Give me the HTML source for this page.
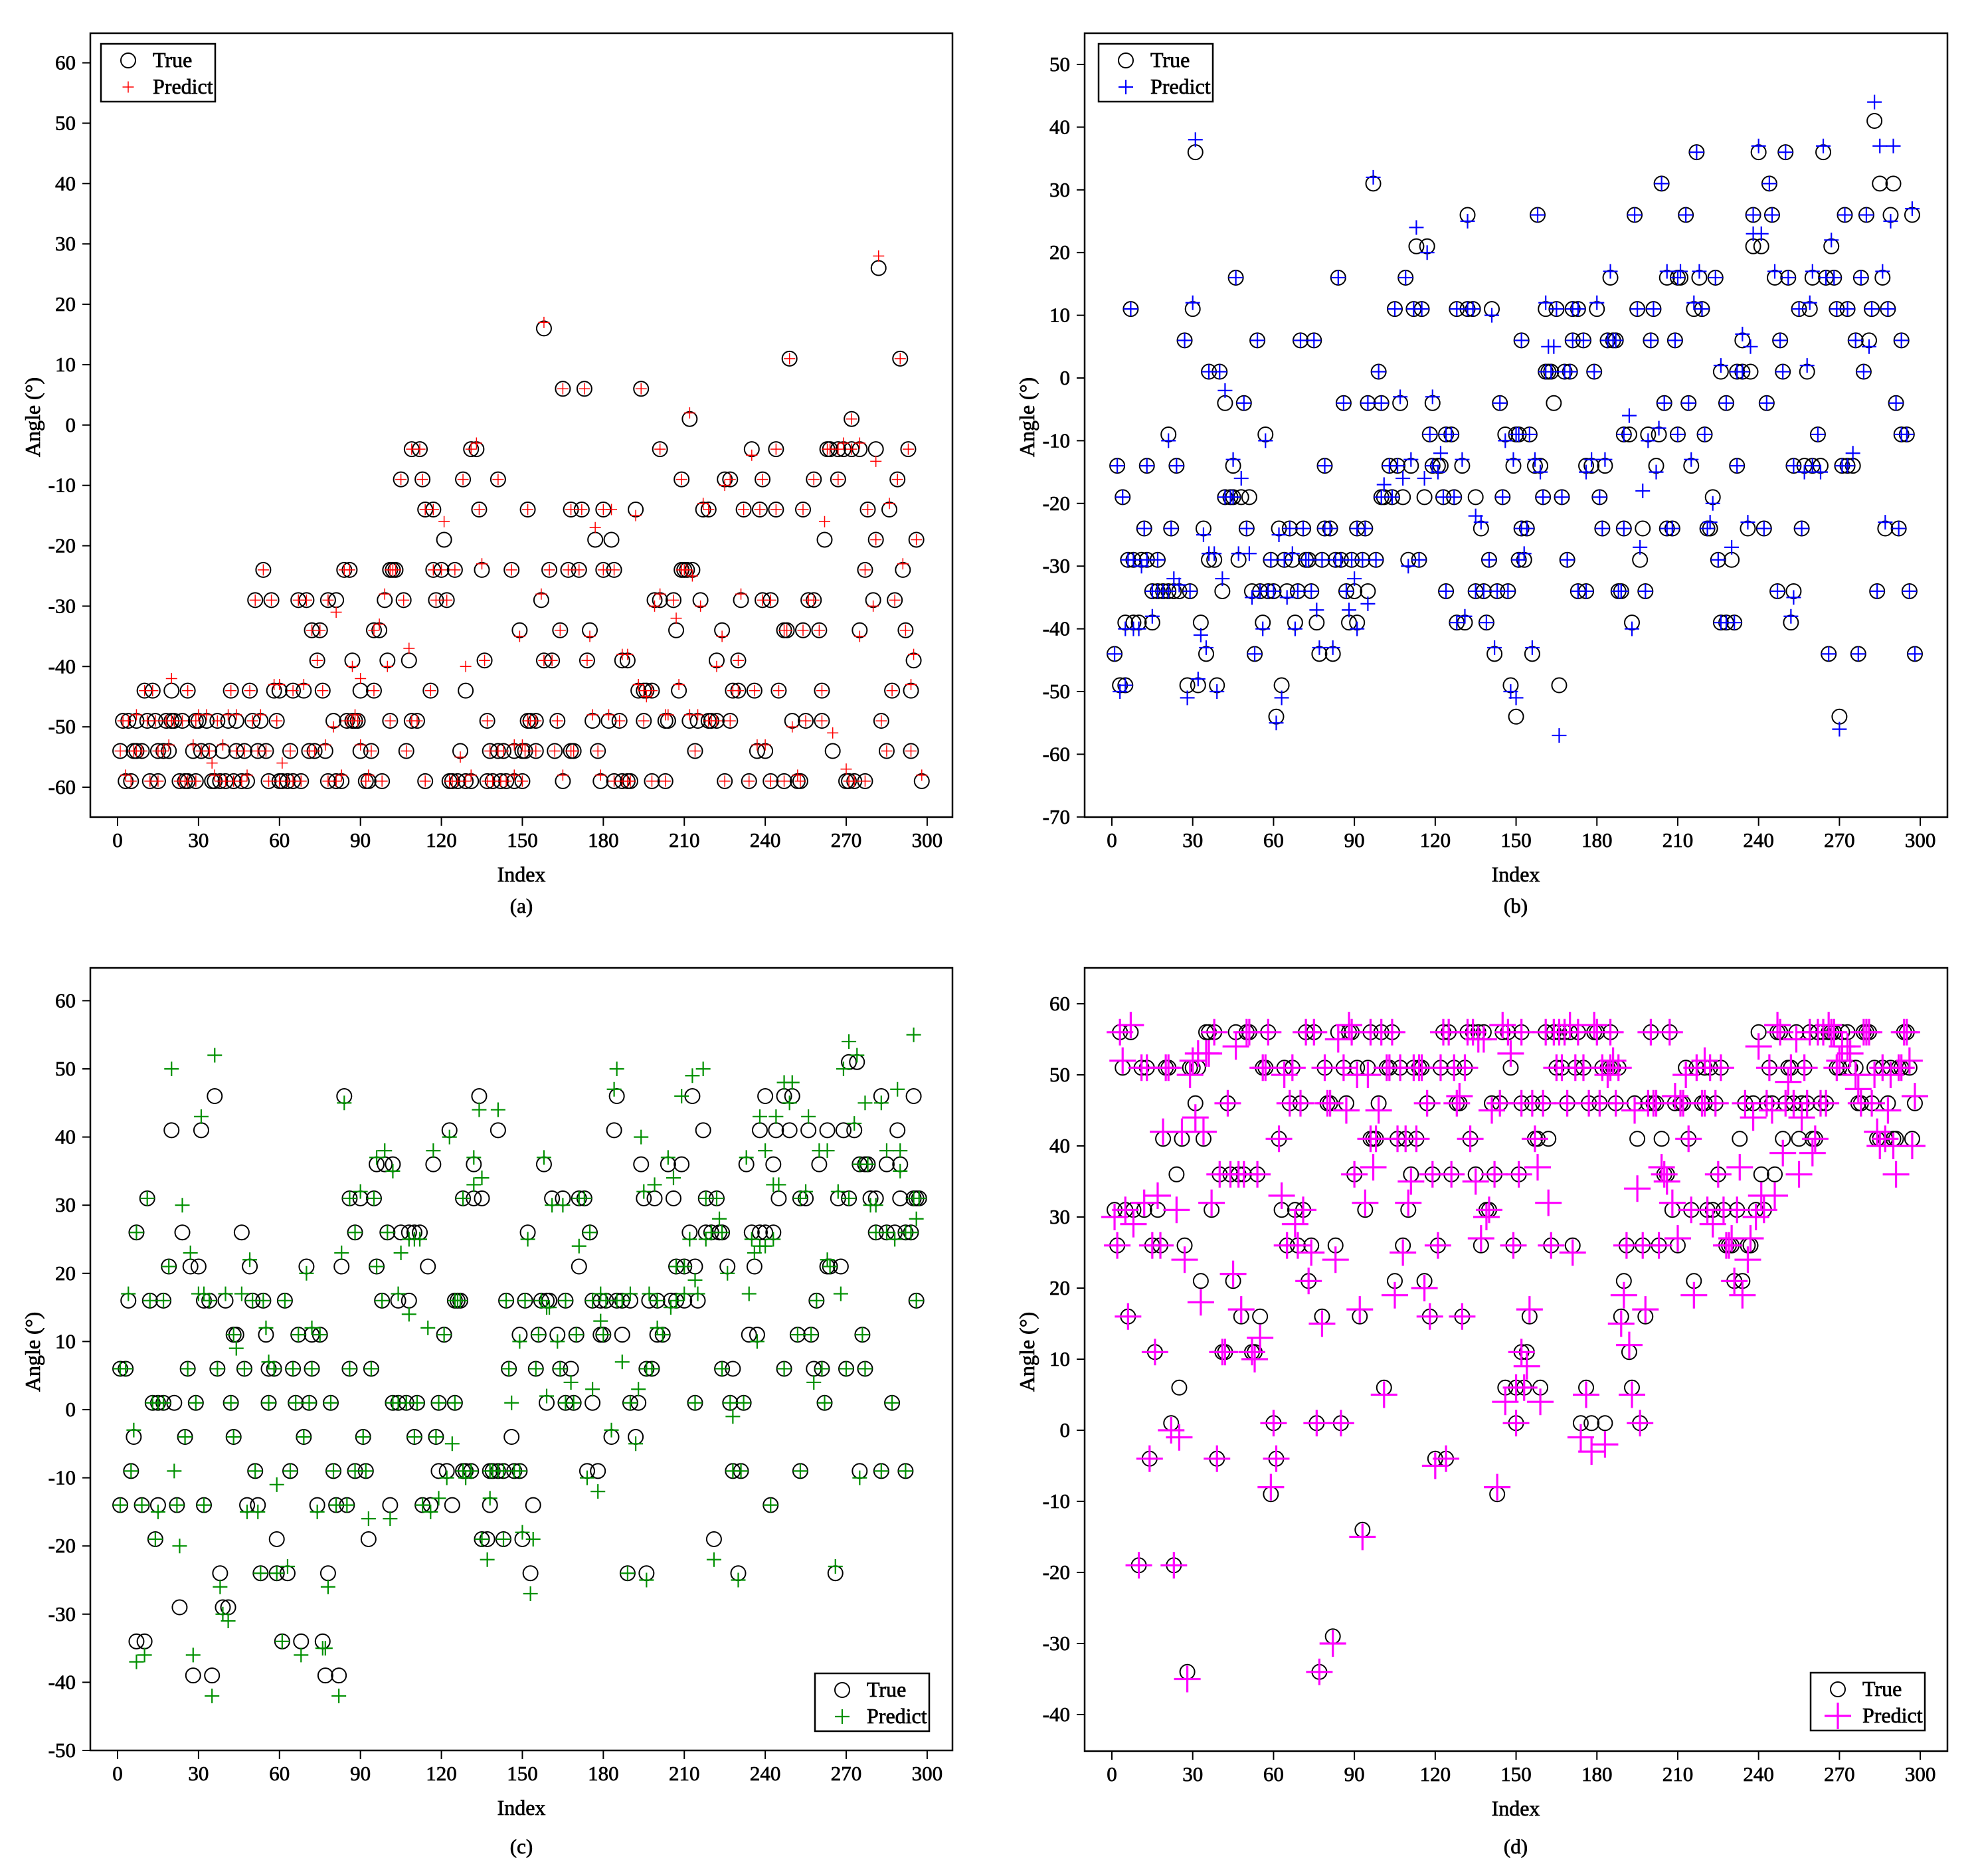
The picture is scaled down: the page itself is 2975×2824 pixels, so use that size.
<!DOCTYPE html>
<html>
<head>
<meta charset="utf-8">
<title>True vs Predict angle scatter panels</title>
<style>
html,body{margin:0;padding:0;background:#fff;}
svg{display:block;}
text{font-family:"Liberation Serif",serif;fill:#000;stroke:#000;stroke-width:.7px;}
</style>
</head>
<body>
<svg id="chart" xmlns="http://www.w3.org/2000/svg" width="2975" height="2824" viewBox="0 0 2975 2824"></svg>
<script>
// ---- shared tick labels ----
const xTicks = [0,30,60,90,120,150,180,210,240,270,300];
const aYTicks = [-60,-50,-40,-30,-20,-10,0,10,20,30,40,50,60];
const bYTicks = [-70,-60,-50,-40,-30,-20,-10,0,10,20,30,40,50];
const cYTicks = [-50,-40,-30,-20,-10,0,10,20,30,40,50,60];
const dYTicks = [-40,-30,-20,-10,0,10,20,30,40,50,60];

// ---- panel (a) ----
const aIndex = [
3,5,12,15,23,25,26,29,35,36, 38,40,43,46,48,56,60,61,63,65, 68,78,81,83,92,93,98,114,123,124, 126,129,131,137,139,142,144,147,150,165, 179,184,187,189,190,198,203,225,234,242, 247,252,253,270,271,273,277,298,
1,6,7,9,15,17,19,28,31,34, 39,44,47,52,55,64,71,73,77,90, 94,107,127,138,141,143,147,150,151,155, 162,168,169,178,214,237,240,265,285,294,
2,4,7,11,14,18,20,21,24,29, 30,33,37,41,44,50,53,59,80,85, 87,88,89,101,109,111,137,152,153,155, 163,176,182,186,195,203,204,212,215,219, 220,222,227,250,255,261,283,
10,13,20,26,42,49,58,60,65,69, 76,90,95,116,129,193,195,196,198,208, 228,230,236,245,261,287,294,
74,87,100,108,136,158,161,174,187,189,222,230,295,
72,75,95,97,149,164,175,207,224,247,248,254,260,275,292,
51,57,67,70,78,81,99,106,118,122,157,199,201,206,216,231,239,242,256,258,280,288,
54,84,86,101,102,103,117,120,125,135,146,160,167,171,180,184,209,210,211,213,277,291,
121,177,183,262,281,296,
114,117,134,152,168,172,180,192,217,219,232,238,244,254,278,286,
105,113,128,141,209,225,227,239,258,267,289,
109,112,131,133,201,235,244,263,264,267,269,272,275,281,293,
212,272,
165,173,194,
249,290,
158,
282];
const aTrue = [
-59,-59,-59,-59,-59,-59,-59,-59,-59,-59, -59,-59,-59,-59,-59,-59,-59,-59,-59,-59, -59,-59,-59,-59,-59,-59,-59,-59,-59,-59, -59,-59,-59,-59,-59,-59,-59,-59,-59,-59, -59,-59,-59,-59,-59,-59,-59,-59,-59,-59, -59,-59,-59,-59,-59,-59,-59,-59,
-54,-54,-54,-54,-54,-54,-54,-54,-54,-54, -54,-54,-54,-54,-54,-54,-54,-54,-54,-54, -54,-54,-54,-54,-54,-54,-54,-54,-54,-54, -54,-54,-54,-54,-54,-54,-54,-54,-54,-54,
-49,-49,-49,-49,-49,-49,-49,-49,-49,-49, -49,-49,-49,-49,-49,-49,-49,-49,-49,-49, -49,-49,-49,-49,-49,-49,-49,-49,-49,-49, -49,-49,-49,-49,-49,-49,-49,-49,-49,-49, -49,-49,-49,-49,-49,-49,-49,
-44,-44,-44,-44,-44,-44,-44,-44,-44,-44, -44,-44,-44,-44,-44,-44,-44,-44,-44,-44, -44,-44,-44,-44,-44,-44,-44,
-39,-39,-39,-39,-39,-39,-39,-39,-39,-39,-39,-39,-39,
-34,-34,-34,-34,-34,-34,-34,-34,-34,-34,-34,-34,-34,-34,-34,
-29,-29,-29,-29,-29,-29,-29,-29,-29,-29,-29,-29,-29,-29,-29,-29,-29,-29,-29,-29,-29,-29,
-24,-24,-24,-24,-24,-24,-24,-24,-24,-24,-24,-24,-24,-24,-24,-24,-24,-24,-24,-24,-24,-24,
-19,-19,-19,-19,-19,-19,
-14,-14,-14,-14,-14,-14,-14,-14,-14,-14,-14,-14,-14,-14,-14,-14,
-9,-9,-9,-9,-9,-9,-9,-9,-9,-9,-9,
-4,-4,-4,-4,-4,-4,-4,-4,-4,-4,-4,-4,-4,-4,-4,
1,1,
6,6,6,
11,11,
16,
26];
const aPredict = [
-58,-59,-59,-59,-59,-59,-59,-59,-56,-58, -59,-59,-59,-59,-58,-59,-59,-56,-59,-59, -59,-59,-59,-58,-59,-58,-59,-59,-59,-59, -59,-59,-58,-59,-59,-59,-59,-58,-59,-58, -58,-59,-59,-59,-59,-59,-59,-59,-59,-59, -59,-58,-59,-57,-59,-59,-59,-58,
-54,-54,-54,-54,-54,-54,-53,-53,-54,-54, -53,-54,-54,-54,-54,-54,-54,-54,-53,-53, -54,-54,-55,-54,-54,-54,-53,-53,-54,-54, -54,-54,-54,-54,-54,-53,-53,-51,-54,-54,
-49,-49,-48,-49,-49,-49,-49,-49,-49,-49, -48,-48,-49,-48,-48,-49,-48,-49,-50,-49, -49,-48,-49,-49,-49,-49,-49,-49,-49,-49, -49,-48,-48,-49,-49,-48,-48,-48,-48,-49, -49,-49,-49,-50,-49,-49,-49,
-44,-44,-42,-44,-44,-44,-43,-43,-44,-43, -44,-42,-44,-44,-40,-43,-44,-45,-44,-43, -44,-44,-44,-44,-44,-44,-43,
-39,-40,-40,-37,-39,-39,-39,-39,-38,-38,-40,-39,-38,
-34,-34,-34,-33,-35,-34,-35,-32,-35,-34,-34,-34,-34,-35,-34,
-29,-29,-29,-29,-29,-31,-28,-29,-29,-29,-28,-30,-28,-29,-30,-28,-29,-29,-29,-29,-30,-29,
-24,-24,-24,-24,-24,-24,-24,-24,-24,-23,-24,-24,-24,-24,-24,-24,-24,-24,-24,-25,-24,-23,
-16,-17,-14,-16,-19,-19,
-14,-14,-14,-14,-14,-14,-14,-15,-13,-14,-14,-14,-14,-14,-14,-13,
-9,-9,-9,-9,-9,-10,-9,-9,-9,-9,-9,
-4,-4,-4,-3,-4,-5,-4,-4,-4,-4,-3,-4,-3,-6,-4,
2,1,
6,6,6,
11,11,
17,
28];

// ---- panel (b) ----
const bIndex = [
283,
31,217,240,250,264,
97,204,244,285,290,
132,158,194,213,238,245,272,280,289,297,
113,117,238,241,267,
46,84,109,185,206,210,211,218,224,246,251,260,265,268,278,286,
7,30,105,112,115,128,132,134,141,161,165,171,173,180,195,201,216,219,255,259,269,273,282,288,
27,54,70,75,152,171,175,184,186,187,200,209,234,248,276,281,293,
36,40,99,161,162,163,168,170,179,226,232,234,237,249,258,279,
42,49,86,95,100,107,119,144,164,205,214,228,243,291,
21,57,118,124,126,146,150,151,155,190,192,199,203,210,220,262,293,295,
2,13,24,45,79, 103,106,111,119,121, 122,130,149,157,159, 176,178,183,202,215, 232,253,257,260,263, 271,273,275,
4,42,44,45,48,51,100,101,104,108,116,123,127,135,145,160,167,181,223,
12,22,34,50,62, 66,71,79,81,91, 94,137,152,154,182, 190,197,206,208,221, 222,236,242,256,287, 292,
6,8,11,13,17, 36,38,47,59,64, 67,72,73,78,83, 85,89,93,98,110, 114,140,151,153,169, 196,225,230,
15,17,19,21,23, 25,29,41,52,55, 58,60,65,69,74, 87,90,95,124,135, 138,143,147,173,176, 188,189,198,247,253, 284,296,
5,8,10,15,33, 56,68,76,88,91, 128,131,139,193,226, 228,231,252,
1,53,35,77,82,142,156,266,277,298,
3,5,28,32,39,63,148,166,
61,150,270];
const bTrue = [
41,
36,36,36,36,36,
31,31,31,31,31,
26,26,26,26,26,26,26,26,26,26,
21,21,21,21,21,
16,16,16,16,16,16,16,16,16,16,16,16,16,16,16,16,
11,11,11,11,11,11,11,11,11,11,11,11,11,11,11,11,11,11,11,11,11,11,11,11,
6,6,6,6,6,6,6,6,6,6,6,6,6,6,6,6,6,
1,1,1,1,1,1,1,1,1,1,1,1,1,1,1,1,
-4,-4,-4,-4,-4,-4,-4,-4,-4,-4,-4,-4,-4,-4,
-9,-9,-9,-9,-9,-9,-9,-9,-9,-9,-9,-9,-9,-9,-9,-9,-9,-9,
-14,-14,-14,-14,-14, -14,-14,-14,-14,-14, -14,-14,-14,-14,-14, -14,-14,-14,-14,-14, -14,-14,-14,-14,-14, -14,-14,-14,
-19,-19,-19,-19,-19,-19,-19,-19,-19,-19,-19,-19,-19,-19,-19,-19,-19,-19,-19,
-24,-24,-24,-24,-24, -24,-24,-24,-24,-24, -24,-24,-24,-24,-24, -24,-24,-24,-24,-24, -24,-24,-24,-24,-24, -24,
-29,-29,-29,-29,-29, -29,-29,-29,-29,-29, -29,-29,-29,-29,-29, -29,-29,-29,-29,-29, -29,-29,-29,-29,-29, -29,-29,-29,
-34,-34,-34,-34,-34, -34,-34,-34,-34,-34, -34,-34,-34,-34,-34, -34,-34,-34,-34,-34, -34,-34,-34,-34,-34, -34,-34,-34,-34,-34, -34,-34,
-39,-39,-39,-39,-39, -39,-39,-39,-39,-39, -39,-39,-39,-39,-39, -39,-39,-39,
-44,-44,-44,-44,-44,-44,-44,-44,-44,-44,
-49,-49,-49,-49,-49,-49,-49,-49,
-54,-54,-54];
const bPredict = [
44,
38,36,37,36,37,
32,31,31,37,37,
25,26,26,26,26,26,26,26,25,27,
24,20,23,23,22,
16,16,16,17,17,16,17,17,16,17,16,17,16,16,16,17,
11,12,11,11,11,11,11,11,10,12,11,11,11,12,11,11,12,11,11,12,11,11,11,11,
6,6,6,6,6,6,6,6,6,6,6,6,7,6,6,5,6,
1,1,1,1,5,1,1,1,1,2,1,1,5,1,2,1,
-2,-4,-4,-4,-4,-3,-3,-4,5,-4,-4,-4,-4,-4,
-10,-10,-9,-9,-9,-10,-9,-9,-9,-9,-6,-10,-8,-9,-9,-9,-9,-9,
-14,-14,-14,-13,-14, -14,-14,-13,-14,-15, -12,-13,-13,-13,-15, -15,-13,-13,-15,-13, -14,-14,-15,-14,-15, -14,-14,-12,
-19,-19,-19,-19,-16,-28,-19,-17,-19,-16,-16,-19,-19,-22,-19,-19,-19,-19,-20,
-24,-24,-25,-24,-25, -24,-24,-24,-24,-24, -24,-23,-24,-24,-24, -24,-18,-24,-24,-24, -23,-23,-24,-24,-23, -24,
-29,-29,-30,-29,-29, -28,-28,-28,-29,-29, -28,-29,-29,-29,-29, -29,-29,-29,-29,-30, -29,-29,-29,-28,-29, -27,-29,-27,
-34,-34,-34,-34,-32, -33,-34,-32,-35,-34, -34,-34,-35,-34,-34, -34,-32,-36,-34,-34, -34,-34,-34,-34,-34, -34,-34,-34,-34,-35, -34,-34,
-40,-40,-40,-38,-41, -40,-40,-37,-37,-40, -39,-38,-39,-40,-39, -39,-39,-38,
-44,-44,-43,-43,-43,-43,-43,-44,-44,-44,
-50,-49,-51,-48,-50,-51,-50,-57,
-55,-51,-56];

// ---- panel (c) ----
const cIndex = [
271,274,
36,84,134,185,213,240,247,250,283,295,
20,31,123,141,184,217,238,244,249,256,263,269,273,289,
96,99,102,117,132,158,194,204,209,233,243,260,275,277,278,285,290,
11,86,90,95,128,132,135,161,165,171,173,195,199,206,218,222,245,253,255,267,271,279,281,290,295,296,297,
7,24,46,88,100,105,108,110,112,152,175,212,218,220,223,224,235,238,240,243,281,285,288,292,294,
19,27,30,49,70,83,96,115,171,207,210,214,226,236,263,264,268,
4,12,17,32,34, 40,50,54,62,98, 104,108,125,126,127, 144,151,157,159,160, 166,176,179,181,185, 187,190,197,200,205, 207,210,215,259,296,
43,44,55,67,72, 75,121,149,156,163, 170,179,180,187,200, 202,234,237,252,257, 276,
1,3,26,37,47, 56,58,65,72,86, 94,145,155,164,168, 196,198,224,228,247, 258,261,270,277,
13,15,17,21,29, 42,56,66,71,79, 102,104,107,111,119, 125,159,166,169,176, 190,193,214,227,232, 262,287,
6,25,43,69,91,110,118,146,183,192,
5,51,64,80,88, 92,119,122,128,129, 131,138,139,141,143, 147,149,174,178,228, 231,253,275,283,292,
1,9,15,22,32, 48,52,74,81,85, 101,113,116,124,138, 154,242,
14,59,93,135,137,143,150,221,
38,53,59,63,78,153,189,196,230,266,
23,39,41,
7,10,61,68,76,
28,35,77,82];
const cTrue = [
51,51,
46,46,46,46,46,46,46,46,46,46,
41,41,41,41,41,41,41,41,41,41,41,41,41,41,
36,36,36,36,36,36,36,36,36,36,36,36,36,36,36,36,36,
31,31,31,31,31,31,31,31,31,31,31,31,31,31,31,31,31,31,31,31,31,31,31,31,31,31,31,
26,26,26,26,26,26,26,26,26,26,26,26,26,26,26,26,26,26,26,26,26,26,26,26,26,
21,21,21,21,21,21,21,21,21,21,21,21,21,21,21,21,21,
16,16,16,16,16, 16,16,16,16,16, 16,16,16,16,16, 16,16,16,16,16, 16,16,16,16,16, 16,16,16,16,16, 16,16,16,16,16,
11,11,11,11,11, 11,11,11,11,11, 11,11,11,11,11, 11,11,11,11,11, 11,
6,6,6,6,6, 6,6,6,6,6, 6,6,6,6,6, 6,6,6,6,6, 6,6,6,6,
1,1,1,1,1, 1,1,1,1,1, 1,1,1,1,1, 1,1,1,1,1, 1,1,1,1,1, 1,1,
-4,-4,-4,-4,-4,-4,-4,-4,-4,-4,
-9,-9,-9,-9,-9, -9,-9,-9,-9,-9, -9,-9,-9,-9,-9, -9,-9,-9,-9,-9, -9,-9,-9,-9,-9,
-14,-14,-14,-14,-14, -14,-14,-14,-14,-14, -14,-14,-14,-14,-14, -14,-14,
-19,-19,-19,-19,-19,-19,-19,-19,
-24,-24,-24,-24,-24,-24,-24,-24,-24,-24,
-29,-29,-29,
-34,-34,-34,-34,-34,
-39,-39,-39,-39];
const cPredict = [
54,52,
52,45,44,50,49,38,48,48,45,55,
50,43,40,44,47,50,43,43,45,43,38,50,42,47,
37,38,35,38,37,37,40,37,46,37,33,38,36,45,36,38,38,
31,31,32,31,31,33,34,30,30,31,31,32,33,34,31,31,33,31,32,32,31,30,30,35,31,28,31,
26,30,17,26,26,23,25,25,25,25,26,25,25,26,28,26,25,24,24,25,26,26,25,26,26,
21,23,17,22,20,23,21,12,24,21,21,19,20,23,22,21,17,
17,16,16,17,16, 17,16,16,16,16, 17,14,16,16,16, 16,16,16,15,15, 16,16,17,16,16, 16,17,17,16,15, 16,17,17,16,16,
11,9,12,11,12, 11,11,10,11,10, 11,13,11,7,12, 11,17,10,11,11, 11,
6,6,6,6,6, 7,6,6,6,6, 6,6,6,6,4, 6,6,6,-1,6, 4,6,6,6,
1,1,1,-9,1, 1,1,1,1,1, 1,1,1,1,1, 1,2,1,1,3, 1,3,1,1,1, 1,1,
-3,-4,-4,-4,-4,-4,-4,1,-3,-5,
-9,-9,-9,-9,-9, -9,-13,-10,-9,-10, -9,-9,-9,-9,-9, -9,-9,-10,-12,-9, -9,-9,-10,-9,-9,
-14,-14,-15,-14,-14, -15,-15,-15,-14,-14, -16,-14,-15,-5,-13, -19,-14,
-19,-11,-16,-19,-22,-19,-18,-22,
-26,-24,-24,-23,-26,-27,-24,-25,-25,-23,
-20,-30,-31,
-37,-36,-34,-36,-35,
-36,-42,-35,-42];

// ---- panel (d) ----
const dIndex = [
3,7,35,36,38, 46,50,51,58,72, 75,84,88,89,96, 100,104,123,125,132, 134,136,138,145,147, 152,161,164,166,168, 170,173,179,180,185, 200,207,240,247,248, 254,259,262,264,266, 267,268,271,273,279, 280,281,294,295,
4,11,13,20,21, 29,30,32,56,57, 64,67,79,86,91, 95,102,103,107,112, 114,115,122,127,131, 148,165,167,172,175, 182,184,185,186,188, 213,217,220,222,226, 244,251,252,257,269, 270,274,276,283,286, 289,292,293,296,
31,43,66,70,80, 81,87,99,117,128, 129,141,144,152,156, 160,169,177,181,187, 194,199,201,202,209, 211,212,219,220,224, 235,238,243,245,250, 253,256,258,263,265, 277,278,282,288,298,
19,26,34,62,96, 97,98,106,109,113, 133,157,158,162,195, 204,214,233,249,255, 260,261,284,285,287, 290,291,297,
24,40,44,47,49, 54,90,111,119,126, 135,142,151,205,206, 225,241,246,
1,5,8,12,17, 37,63,68,71,94, 110,139,140,208,215, 221,223,227,232,239, 242,
2,15,18,27,65, 69,74,83,108,121, 137,149,163,171,191, 197,203,210,228,229, 230,236,237,
33,45,73,105,116,190,216,231,234,
6,48,55,78,92,118,130,155,189,198,
16,41,42,52,53,152,154,192,
25,101,146,150,153,159,176,193,
22,60,76,85,150,174,178,183,196,
14,39,61,120,124,
59,143,
93,
10,23,
82,
28,77];
const dTrue = [
56,56,56,56,56, 56,56,56,56,56, 56,56,56,56,56, 56,56,56,56,56, 56,56,56,56,56, 56,56,56,56,56, 56,56,56,56,56, 56,56,56,56,56, 56,56,56,56,56, 56,56,56,56,56, 56,56,56,56,
51,51,51,51,51, 51,51,51,51,51, 51,51,51,51,51, 51,51,51,51,51, 51,51,51,51,51, 51,51,51,51,51, 51,51,51,51,51, 51,51,51,51,51, 51,51,51,51,51, 51,51,51,51,51, 51,51,51,51,
46,46,46,46,46, 46,46,46,46,46, 46,46,46,46,46, 46,46,46,46,46, 46,46,46,46,46, 46,46,46,46,46, 46,46,46,46,46, 46,46,46,46,46, 46,46,46,46,46,
41,41,41,41,41, 41,41,41,41,41, 41,41,41,41,41, 41,41,41,41,41, 41,41,41,41,41, 41,41,41,
36,36,36,36,36, 36,36,36,36,36, 36,36,36,36,36, 36,36,36,
31,31,31,31,31, 31,31,31,31,31, 31,31,31,31,31, 31,31,31,31,31, 31,
26,26,26,26,26, 26,26,26,26,26, 26,26,26,26,26, 26,26,26,26,26, 26,26,26,
21,21,21,21,21,21,21,21,21,
16,16,16,16,16,16,16,16,16,16,
11,11,11,11,11,11,11,11,
6,6,6,6,6,6,6,6,
1,1,1,1,1,1,1,1,1,
-4,-4,-4,-4,-4,
-9,-9,
-14,
-19,-19,
-29,
-34,-34];
const dPredict = [
56,57,53,53,56, 54,56,56,56,56, 56,55,57,56,56, 56,56,56,56,56, 56,55,55,57,56, 56,56,56,56,56, 57,56,57,56,56, 56,56,54,57,56, 55,56,56,56,57, 56,56,54,54,56, 56,56,56,56,
52,51,51,51,51, 50,52,53,51,51, 50,51,51,51,50, 50,51,51,51,51, 51,51,51,51,51, 53,51,51,51,51, 51,50,51,52,51, 50,51,52,51,51, 51,49,51,51,51, 52,53,50,50,51, 50,51,51,52,
44,46,46,46,46, 46,45,45,46,46, 47,45,46,46,46, 46,46,46,46,46, 45,46,46,46,47, 46,46,46,46,46, 46,44,46,45,46, 46,44,46,46,46, 48,46,46,45,47,
42,42,42,41,41, 37,41,41,41,41, 41,41,37,32,34, 37,41,37,39,36, 39,41,42,40,41, 40,36,40,
31,36,36,36,36, 36,36,35,36,36, 35,36,36,36,35, 36,33,33,
30,31,29,32,33, 32,33,29,31,32, 32,30,31,32,31, 31,29,31,31,30, 31,
26,26,26,24,26, 26,25,24,25,26, 27,26,26,25,26, 26,26,27,26,26, 27,24,27,
18,22,21,19,20,19,19,21,19,
16,17,13,15,17,16,16,17,15,17,
11,11,11,11,10,11,9,12,
-1,5,4,6,6,4,5,5,
0,1,1,1,1,-1,-3,-2,1,
-4,-4,-4,-5,-4,
-8,-8,
-15,
-19,-19,
-30,
-35,-34];

// ---- drawing ----
const NS = 'http://www.w3.org/2000/svg';
const svg = document.getElementById('chart');

function make(tag, attrs, parent) {
  const el = document.createElementNS(NS, tag);
  for (const k in attrs) el.setAttribute(k, attrs[k]);
  parent.appendChild(el);
  return el;
}

function drawPanel(p) {
  const g = make('g', {}, svg);
  
  
  const xs = v => p.x0 + v * p.xUnit;
  const ys = v => p.y0 - v * p.yUnit;

  // data marks
  p.index.forEach((ix, i) => {
    const c = make('circle', {cx: xs(ix), cy: ys(p.truth[i]), r: 11, fill: 'none', stroke: '#000', 'stroke-width': 2}, g);
    
    
  });
  p.index.forEach((ix, i) => {
    const cx = xs(ix), cy = ys(p.predict[i]), h = p.crossHalf;
    const m = make('path', {d: 'M' + (cx - h) + ' ' + cy + 'H' + (cx + h) + 'M' + cx + ' ' + (cy - h) + 'V' + (cy + h), fill: 'none', stroke: p.color, 'stroke-width': p.crossWidth}, g);
    
    
  });

  // frame
  const frame = make('rect', {x: p.left, y: p.top, width: p.right - p.left, height: p.bottom - p.top, fill: 'none', stroke: '#000', 'stroke-width': 2.5}, g);
  
  

  // x ticks
  xTicks.forEach(t => {
    const l = make('line', {x1: xs(t), x2: xs(t), y1: p.bottom, y2: p.bottom + 13, stroke: '#000', 'stroke-width': 2}, g);
    
    
    const tx = make('text', {x: xs(t), y: p.bottom + 45, 'text-anchor': 'middle', 'font-size': 31}, g);
    tx.textContent = t;
    
    
  });

  // y ticks
  p.yTicks.forEach(t => {
    const l = make('line', {x1: p.left - 12, x2: p.left, y1: ys(t), y2: ys(t), stroke: '#000', 'stroke-width': 2}, g);
    
    
    const tx = make('text', {x: p.left - 22, y: ys(t) + 10, 'text-anchor': 'end', 'font-size': 31}, g);
    tx.textContent = t;
    
    
  });

  // axis titles and caption
  const xt = make('text', {x: p.center, y: p.bottom + 97, 'text-anchor': 'middle', 'font-size': 32}, g);
  xt.textContent = 'Index';
  
  

  const yt = make('text', {transform: 'translate(' + (p.left - 76) + ' ' + p.yTitle + ') rotate(-90)', 'text-anchor': 'middle', 'font-size': 32}, g);
  yt.textContent = 'Angle (°)';
  
  

  const cap = make('text', {x: p.center, y: p.captionY, 'text-anchor': 'middle', 'font-size': 31}, g);
  cap.textContent = '(' + p.key + ')';
  
  

  // legend
  const lg = make('g', {}, g);
  
  
  const box = make('rect', {x: p.legendX, y: p.legendY, width: 172, height: 87, fill: '#fff', stroke: '#000', 'stroke-width': 2.5}, lg);
  
  
  const lc = make('circle', {cx: p.legendX + 41, cy: p.legendY + 25, r: 11, fill: 'none', stroke: '#000', 'stroke-width': 2}, lg);
  
  
  const lt = make('text', {x: p.legendX + 78, y: p.legendY + 35, 'font-size': 32}, lg);
  lt.textContent = 'True';
  
  
  const mx = p.legendX + 41, my = p.legendY + 65, h = p.crossHalf;
  const lm = make('path', {d: 'M' + (mx - h) + ' ' + my + 'H' + (mx + h) + 'M' + mx + ' ' + (my - h) + 'V' + (my + h), fill: 'none', stroke: p.color, 'stroke-width': p.crossWidth}, lg);
  
  
  const lp = make('text', {x: p.legendX + 78, y: p.legendY + 75, 'font-size': 32}, lg);
  lp.textContent = 'Predict';
  
  
}

drawPanel({key: 'a', index: aIndex, truth: aTrue, predict: aPredict, yTicks: aYTicks, color: '#ff0000', crossHalf: 8.5, crossWidth: 1.5,
  left: 136, right: 1434, top: 50, bottom: 1230, x0: 177, xUnit: 4.063, y0: 639.8, yUnit: 9.087, center: 785, yTitle: 628, captionY: 1374, legendX: 152, legendY: 66});
drawPanel({key: 'b', index: bIndex, truth: bTrue, predict: bPredict, yTicks: bYTicks, color: '#0000ff', crossHalf: 11, crossWidth: 2.2,
  left: 1633, right: 2932, top: 50, bottom: 1230, x0: 1674, xUnit: 4.057, y0: 569, yUnit: 9.44, center: 2282, yTitle: 628, captionY: 1374, legendX: 1654, legendY: 66});
drawPanel({key: 'c', index: cIndex, truth: cTrue, predict: cPredict, yTicks: cYTicks, color: '#009000', crossHalf: 11, crossWidth: 2.2,
  left: 136, right: 1434, top: 1457, bottom: 2635, x0: 177, xUnit: 4.063, y0: 2122, yUnit: 10.26, center: 785, yTitle: 2035, captionY: 2790, legendX: 1227, legendY: 2519});
drawPanel({key: 'd', index: dIndex, truth: dTrue, predict: dPredict, yTicks: dYTicks, color: '#ff00ff', crossHalf: 20, crossWidth: 3.2,
  left: 1633, right: 2932, top: 1457, bottom: 2636, x0: 1674, xUnit: 4.057, y0: 2153, yUnit: 10.7, center: 2282, yTitle: 2035, captionY: 2790, legendX: 2726, legendY: 2518});
</script>
</body>
</html>
